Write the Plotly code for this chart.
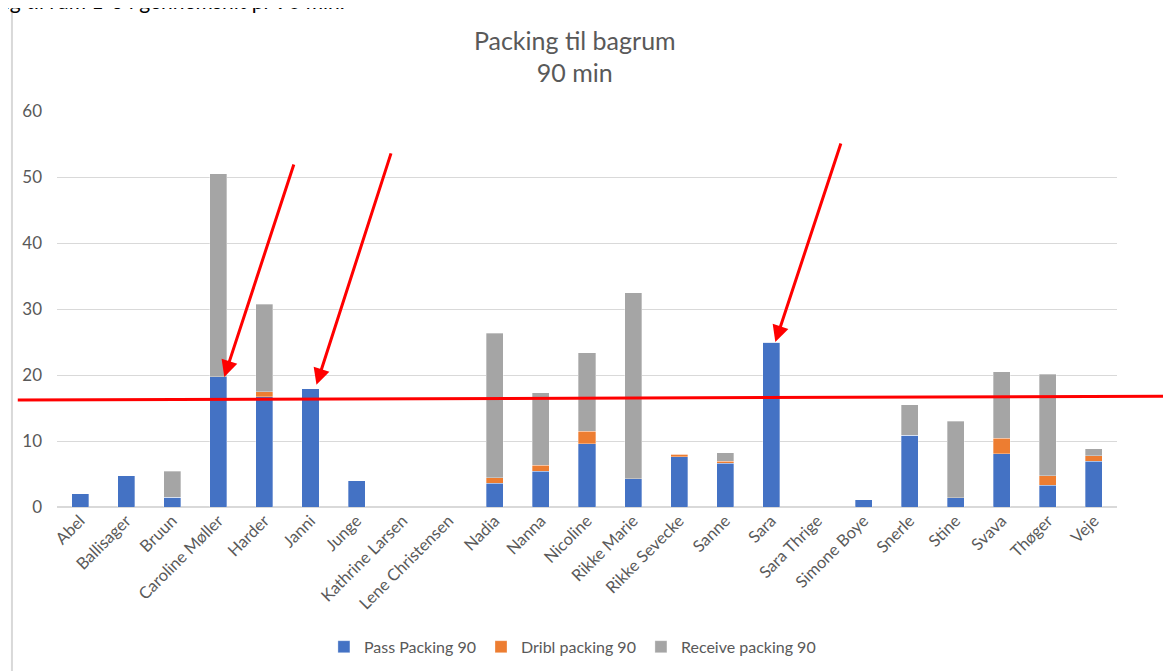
import plotly.graph_objs as go

players = ["Abel", "Ballisager", "Bruun", "Caroline Møller", "Harder", "Janni", "Junge",
           "Kathrine Larsen", "Lene Christensen", "Nadia", "Nanna", "Nicoline", "Rikke Marie",
           "Rikke Sevecke", "Sanne", "Sara", "Sara Thrige", "Simone Boye", "Snerle", "Stine",
           "Svava", "Thøger", "Veje"]
pass_packing = [2.0, 4.7, 1.5, 19.7, 16.7, 17.9, 4.0, 0, 0, 3.6, 5.4, 9.6, 4.3,
                7.6, 6.6, 25.0, 0, 1.1, 10.9, 1.4, 8.1, 3.3, 6.9]
dribl_packing = [0, 0, 0, 0, 0.8, 0, 0, 0, 0, 0.8, 0.9, 1.9, 0,
                 0.4, 0.3, 0, 0, 0, 0, 0, 2.3, 1.4, 0.9]
receive_packing = [0, 0, 3.9, 30.8, 13.2, 0, 0, 0, 0, 21.9, 11.0, 11.9, 28.2,
                   0, 1.3, 0, 0, 0, 4.6, 11.6, 10.1, 15.4, 1.0]
series_names = ["Pass Packing 90", "Dribl packing 90", "Receive packing 90"]
colors = ["#4472C4", "#ED7D31", "#A5A5A5"]

# red markings drawn on top of the chart (arrow -> player)
marked = ["Caroline Møller", "Janni", "Sara"]

FONT = "Lato, Calibri, sans-serif"
GREY = "#595959"


def main():
    fig = go.Figure()
    for name, vals, col in zip(series_names, [pass_packing, dribl_packing, receive_packing], colors):
        fig.add_trace(go.Bar(x=players, y=vals, name=name,
                             marker=dict(color=col, line=dict(color="rgba(255,255,255,0.4)", width=0.8))))

    # the html body adds an 8px offset, margins are compensated for that
    fig.update_layout(
        barmode="stack", bargap=0.63,
        width=1171, height=671,
        margin=dict(l=49, r=62, t=103, b=172),
        paper_bgcolor="white", plot_bgcolor="white",
        font=dict(family=FONT, color=GREY, size=16),
        title=dict(text="Packing til bagrum<br>90 min", x=0.484, xanchor="center",
                   y=0.938, yanchor="middle", yref="container",
                   font=dict(family=FONT, size=25, color=GREY)),
        legend=dict(orientation="h", x=0.482, xanchor="center", y=0.048, yanchor="middle",
                    xref="container", yref="container", font=dict(size=16, color=GREY),
                    traceorder="normal"),
    )
    fig.update_yaxes(range=[0, 60], dtick=10, showgrid=True, gridcolor="#D9D9D9", gridwidth=1,
                     zeroline=True, zerolinecolor="#D9D9D9", ticklabelstandoff=14,
                     tickfont=dict(size=17, color=GREY), showline=False, automargin=False)
    fig.update_xaxes(tickangle=-45, tickfont=dict(size=16.5, color=GREY), showline=False,
                     ticks="", automargin=False)

    # red horizontal marking line
    fig.add_shape(type="line", xref="paper", yref="y", x0=-0.037, x1=1.06, y0=16.2, y1=16.8,
                  line=dict(color="#FF0000", width=3))

    totals = dict(zip(players, pass_packing))
    offsets = {"Caroline Møller": (6, 0, 70, -214), "Janni": (6, 4, 75, -233), "Sara": (4, 0, 66, -200)}
    for p in marked:
        xs, ys, ax, ay = offsets[p]
        fig.add_annotation(x=p, y=totals[p], xshift=xs, yshift=ys, ax=ax, ay=ay,
                           showarrow=True, arrowhead=2, arrowsize=1.1, arrowwidth=3,
                           arrowcolor="#FF0000", text="")

    # cropped document text and page border from the screenshot
    fig.add_annotation(text="ng til rum 1-3 i gennemsnit pr 90 min.", xref="paper", yref="paper",
                       x=-0.058, y=1.278, xanchor="left", yanchor="middle", showarrow=False,
                       font=dict(family=FONT, size=21, color="black"))
    fig.add_shape(type="line", xref="paper", yref="paper", x0=-0.0425, x1=-0.0425, y0=-0.42, y1=1.255,
                  line=dict(color="#D9D9D9", width=2))

    fig.write_html("out.html")


if __name__ == "__main__":
    main()
